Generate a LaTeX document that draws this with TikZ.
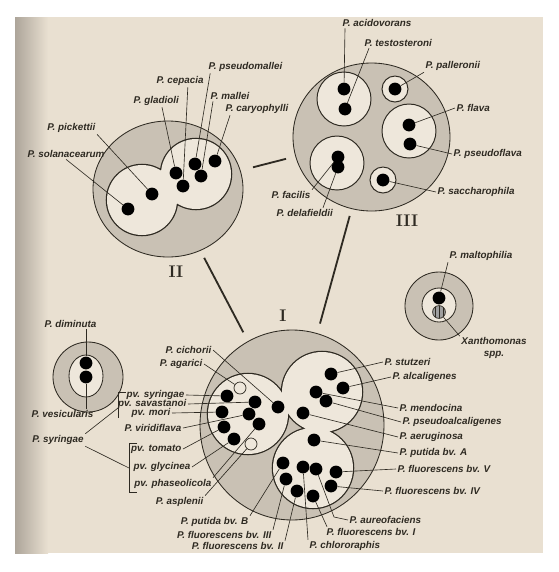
\documentclass[tikz,border=0pt]{standalone}
\usepackage{fontspec}
\setsansfont{Liberation Sans}
\usetikzlibrary{positioning,shapes.geometric,patterns}

\definecolor{paper}{HTML}{E9E0D1}
\definecolor{shadow}{HTML}{ADA59A}
\definecolor{ringgray}{HTML}{C9C1B4}
\definecolor{lobe}{HTML}{EEE7DB}
\definecolor{ink}{HTML}{2E2A22}

\begin{document}
\begin{tikzpicture}[x=0.25mm, y=-0.25mm,
    ring/.style={ellipse, draw=ink, fill=ringgray, line width=0.6pt, inner sep=0pt},
    cell/.style={ellipse, draw=ink, fill=lobe, line width=0.7pt, inner sep=0pt},
    lobeline/.style={draw=ink, line width=1.8pt},
    dot/.style={circle, fill=black, inner sep=0pt, minimum size=3.2mm},
    opendot/.style={circle, draw=ink, fill=lobe, line width=0.5pt, inner sep=0pt, minimum size=3mm},
    hatchdot/.style={dot, fill=gray!75, draw=ink, line width=0.5pt, postaction={pattern=vertical lines, pattern color=ink}},
    lab/.style={font=\sffamily\bfseries\itshape\fontsize{7}{8}\selectfont, text=ink, inner sep=1pt},
    lead/.style={draw=ink, line width=0.45pt},
    link/.style={draw=ink, line width=1.3pt},
    numeral/.style={font=\rmfamily\bfseries\fontsize{12}{12}\selectfont, text=ink, inner sep=0pt}
]
\useasboundingbox (0,0) rectangle (559,572);
\fill[white] (0,0) rectangle (559,572);
\fill[paper] (15,17) rectangle (543,553);
\shade[left color=shadow, right color=paper] (15,17) rectangle (48,553);

% group rings
\node[ring, minimum width=37.5mm, minimum height=34mm] (II) at (168,189) {};
\node[ring, minimum width=39.25mm, minimum height=37mm] (III) at (371.5,137) {};
\node[ring, minimum width=46mm, minimum height=47.5mm] (I) at (292,425) {};
\node[ring, minimum size=17.5mm] (rDim) at (88,377) {};
\node[ring, minimum size=17mm] (rMlt) at (439,306) {};

% lobes (outline of the union, then the fill)
\path[lobeline] (142,200) circle[radius=35] (196,174) circle[radius=35];
\fill[lobe] (142,200) circle[radius=35] (196,174) circle[radius=35];
\path[lobeline] (248,414) circle[radius=40] (322,392) circle[radius=40] (313,468) circle[radius=40];
\fill[lobe] (248,414) circle[radius=40] (322,392) circle[radius=40] (313,468) circle[radius=40];

% cells
\node[cell, minimum size=13.5mm] (cAci) at (344,99) {};
\node[cell, minimum size=6.5mm] (cPal) at (395,89) {};
\node[cell, minimum size=13.5mm] (cFla) at (409,131) {};
\node[cell, minimum size=13.5mm] (cFac) at (337,163) {};
\node[cell, minimum size=6.5mm] (cSac) at (383,180) {};
\node[cell, minimum width=8.5mm, minimum height=10.5mm, line width=0.6pt] (cDim) at (86,376) {};
\node[cell, minimum size=8.5mm, line width=0.6pt] (cMlt) at (439,305) {};

% dots of II
\node[dot] (dSol) at (128,209) {};
\node[dot] (dPic) at (152,194) {};
\node[dot] (dGla) at (176,173) {};
\node[dot] (dCep) at (183,186) {};
\node[dot] (dPsm) at (195,164) {};
\node[dot] (dMal) at (201,176) {};
\node[dot] (dCar) at (215,161) {};
% dots of III
\node[dot] (dAci) at (344,89) {};
\node[dot] (dTes) at (345,109) {};
\node[dot] (dPal) at (395,89) {};
\node[dot] (dFla) at (409,125) {};
\node[dot] (dPsf) at (410,144) {};
\node[dot] (dFac) at (338,157) {};
\node[dot] (dDel) at (338,167) {};
\node[dot] (dSac) at (383,180) {};
% small groups
\node[dot] (dDim) at (86,363) {};
\node[dot] (dVes) at (86,377) {};
\node[dot] (dMlt) at (439,298) {};
\node[hatchdot] (dXan) at (439,312) {};
% dots of I
\node[opendot] (oAga) at (240,388) {};
\node[dot] (dPvS) at (227,396) {};
\node[dot] (dSav) at (255,402) {};
\node[dot] (dMor) at (222,412) {};
\node[dot] (dVir) at (249,414) {};
\node[dot] (dTom) at (224,427) {};
\node[dot] (dPha) at (259,424) {};
\node[dot] (dGly) at (234,439) {};
\node[opendot] (oAsp) at (251,444) {};
\node[dot] (dCic) at (278,407) {};
\node[dot] (dStu) at (331,374) {};
\node[dot] (dAlc) at (343,388) {};
\node[dot] (dMen) at (316,392) {};
\node[dot] (dPsa) at (326,401) {};
\node[dot] (dAer) at (303,413) {};
\node[dot] (dPuA) at (314,440) {};
\node[dot] (dPuB) at (283,463) {};
\node[dot] (dChl) at (303,467) {};
\node[dot] (dAur) at (316,469) {};
\node[dot] (dF5) at (336,472) {};
\node[dot] (dF3) at (286,479) {};
\node[dot] (dF2) at (297,491) {};
\node[dot] (dF1) at (313,496) {};
\node[dot] (dF4) at (331,486) {};

% labels of II
\node[lab] (labSol) at (66,154) {P. solanacearum};
\node[lab, anchor=east] (labPic) at (97,128) {P. pickettii};
\node[lab, anchor=west] (labGla) at (132,101) {P. gladioli};
\node[lab, anchor=west] (labCep) at (155,81) {P. cepacia};
\node[lab, anchor=west] (labPsm) at (207,67) {P. pseudomallei};
\node[lab, anchor=west] (labMal) at (209,96) {P. mallei};
\node[lab, anchor=west] (labCar) at (224,109) {P. caryophylli};
% labels of III
\node[lab, anchor=west] (labAci) at (341,23) {P. acidovorans};
\node[lab, anchor=west] (labTes) at (363,43) {P. testosteroni};
\node[lab, anchor=west] (labPal) at (424,66) {P. palleronii};
\node[lab, anchor=west] (labFla) at (455,108) {P. flava};
\node[lab, anchor=west] (labPsf) at (452,154) {P. pseudoflava};
\node[lab, anchor=west] (labSac) at (436,192) {P. saccharophila};
\node[lab, anchor=east] (labFac) at (312,195) {P. facilis};
\node[lab, anchor=west] (labDel) at (275,213) {P. delafieldii};
% small groups
\node[lab, anchor=west] (labDim) at (43,324) {P. diminuta};
\node[lab, anchor=west] (labVes) at (30,414) {P. vesicularis};
\node[lab, anchor=west] (labMlt) at (448,256) {P. maltophilia};
\node[lab, align=center] (labXan) at (494,348) {Xanthomonas\\spp.};
% labels of I, left side
\node[lab, anchor=east] (labCic) at (213,350) {P. cichorii};
\node[lab, anchor=east] (labAga) at (204,364) {P. agarici};
\node[lab, anchor=east] (labPvS) at (186,395) {pv. syringae};
\node[lab, anchor=east] (labSav) at (188,404) {pv. savastanoi};
\node[lab, anchor=east] (labMor) at (172,413) {pv. mori};
\node[lab, anchor=east] (labVir) at (183,428) {P. viridiflava};
\node[lab, anchor=east] (labTom) at (183,449) {pv. tomato};
\node[lab, anchor=east] (labGly) at (192,467) {pv. glycinea};
\node[lab, anchor=east] (labPha) at (213,484) {pv. phaseolicola};
\node[lab, anchor=east] (labAsp) at (205,502) {P. asplenii};
\node[lab, anchor=east] (labPuB) at (250,522) {P. putida bv. B};
\node[lab, anchor=east] (labF3) at (273,535) {P. fluorescens bv. III};
\node[lab, anchor=east] (labF2) at (285,546) {P. fluorescens bv. II};
\node[lab] (labSyr) at (58,440) {P. syringae};
% labels of I, right side
\node[lab, anchor=west] (labStu) at (383,362) {P. stutzeri};
\node[lab, anchor=west] (labAlc) at (391,377) {P. alcaligenes};
\node[lab, anchor=west] (labMen) at (398,408) {P. mendocina};
\node[lab, anchor=west] (labPsa) at (401,422) {P. pseudoalcaligenes};
\node[lab, anchor=west] (labAer) at (398,437) {P. aeruginosa};
\node[lab, anchor=west] (labPuA) at (398,453) {P. putida bv. A};
\node[lab, anchor=west] (labF5) at (396,469) {P. fluorescens bv. V};
\node[lab, anchor=west] (labF4) at (383,491) {P. fluorescens bv. IV};
\node[lab, anchor=west] (labAur) at (348,520) {P. aureofaciens};
\node[lab, anchor=west] (labF1) at (325,532) {P. fluorescens bv. I};
\node[lab, anchor=west] (labChl) at (308,546) {P. chlororaphis};

% leaders of II
\draw[lead] (labSol.south) -- (dSol);
\draw[lead] (labPic.south east) -- (dPic);
\draw[lead] ([xshift=7.5mm]labGla.south west) -- (dGla);
\draw[lead] ([xshift=8.2mm]labCep.south west) -- (dCep);
\draw[lead] ([xshift=0.8mm]labPsm.south west) -- (dPsm);
\draw[lead] ([xshift=1mm]labMal.south west) -- (dMal);
\draw[lead] ([xshift=1.5mm]labCar.south west) -- (dCar);
% leaders of III
\draw[lead] ([xshift=1mm]labAci.south west) -- (dAci);
\draw[lead] ([xshift=1.5mm]labTes.south west) -- (dTes);
\draw[lead] (labPal.south west) -- (dPal);
\draw[lead] (labFla.west) -- (dFla);
\draw[lead] (labPsf.west) -- (dPsf);
\draw[lead] (labSac.west) -- (dSac);
\draw[lead] (labFac.north east) -- (dFac);
\draw[lead] ([xshift=12mm]labDel.north west) -- (dDel);
% leaders of the small groups
\draw[lead] (dDim) -- (dDim |- labDim.south);
\draw[lead] (dVes) -- (dVes |- labVes.north);
\draw[lead] (labMlt.south west) -- (dMlt);
\draw[lead] (labXan.north west) -- (dXan);
% leaders of I
\draw[lead] (labCic.east) -- (dCic);
\draw[lead] (labAga.east) -- (oAga);
\draw[lead] (labPvS.east) -- (dPvS);
\draw[lead] (labSav.east) -- (dSav);
\draw[lead] (labMor.east) -- (dMor);
\draw[lead] (labVir.east) -- (dVir);
\draw[lead] (labTom.east) -- (dTom);
\draw[lead] (labGly.east) -- (dGly);
\draw[lead] (labPha.north east) -- (dPha);
\draw[lead] (labAsp.north east) -- (oAsp);
\draw[lead] (labPuB.north east) -- (dPuB);
\draw[lead] (labF3.north east) -- (dF3);
\draw[lead] (labF2.north east) -- (dF2);
\draw[lead] (labStu.west) -- (dStu);
\draw[lead] (labAlc.west) -- (dAlc);
\draw[lead] (labMen.west) -- (dMen);
\draw[lead] (labPsa.west) -- (dPsa);
\draw[lead] (labAer.west) -- (dAer);
\draw[lead] (labPuA.west) -- (dPuA);
\draw[lead] (labF5.west) -- (dF5);
\draw[lead] (labF4.west) -- (dF4);
\coordinate (kAur) at (334,517);
\draw[lead] (labAur.west) -- (kAur) -- (dAur);
\draw[lead] ([xshift=0.5mm]labF1.north west) -- (dF1);
\draw[lead] (labChl.north west) -- (dChl);

% brackets of P. syringae
\coordinate (brAtop) at (118,392);
\coordinate (brAbot) at (118,418);
\coordinate (brAmid) at (118,408);
\coordinate (brBtop) at (129,443);
\coordinate (brBbot) at (129,492);
\coordinate (brBmid) at (129,468);
\draw[lead, line width=0.6pt] ([xshift=2mm]brAtop) -- (brAtop) -- (brAbot);
\draw[lead, line width=0.6pt] ([xshift=2mm]brBtop) -- (brBtop) -- (brBbot) -- ([xshift=2mm]brBbot);
\draw[lead] (labSyr.north east) -- (brAmid);
\draw[lead] (labSyr.south east) -- (brBmid);

% links between the groups
\draw[link, shorten <=3.2mm, shorten >=2.4mm] (II) -- (III);
\draw[link, shorten <=2mm, shorten >=2.5mm] (II) -- (I);
\draw[link, shorten <=1.8mm, shorten >=2.5mm] (III) -- (I);

% group numerals
\node[numeral] (numI) at (283,316) {I};
\node[numeral] (numII) at (176,272) {II};
\node[numeral] (numIII) at (407,221) {III};

\end{tikzpicture}
\end{document}
